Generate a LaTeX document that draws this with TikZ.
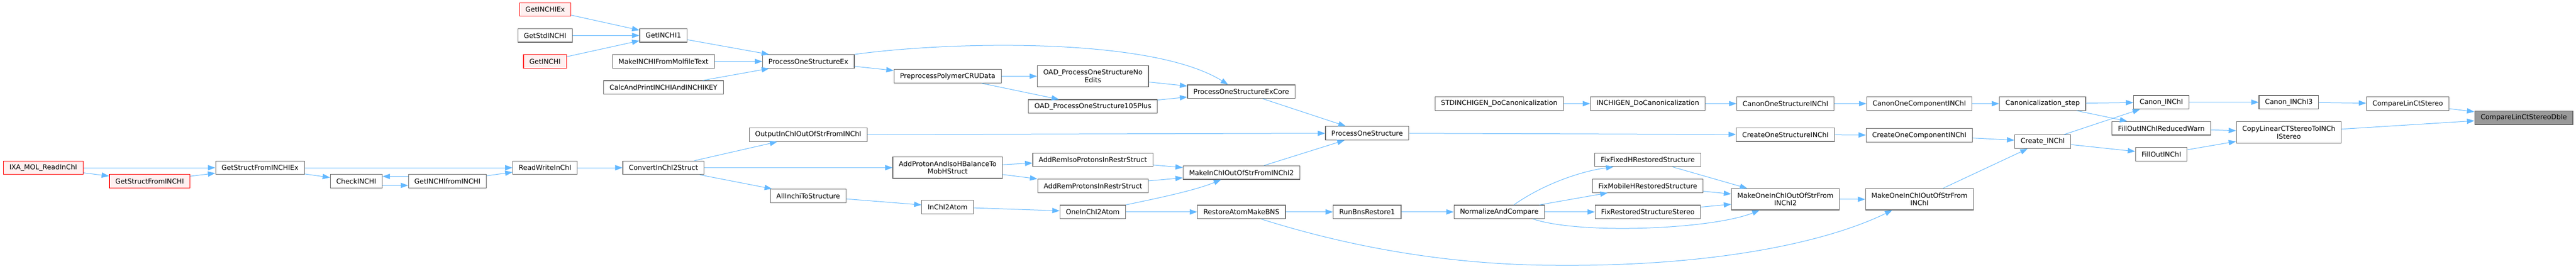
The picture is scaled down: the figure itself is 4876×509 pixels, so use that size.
\documentclass[tikz,border=0pt]{standalone}
\usepackage{fontspec}
\setmainfont{DejaVu Sans}
\usetikzlibrary{arrows.meta}
\usetikzlibrary{positioning}

\definecolor{edgeblue}{HTML}{63B8FF}
\definecolor{nodeborder}{HTML}{666666}
\definecolor{callerfill}{HTML}{FFF0F0}
\definecolor{focusfill}{HTML}{999999}

\begin{document}
\begin{tikzpicture}[
      x = 1pt, y = -1pt,
      >={Triangle[length=14pt, width=10pt]},
      fn/.style = {
        draw = nodeborder, fill = white, line width = 1.2pt,
        font = \fontsize{12.9pt}{14.5pt}\selectfont,
        inner xsep = 11.3pt, inner ysep = 0pt,
        minimum height = 25.6pt, align = center
      },
      caller/.style = { draw = red, fill = callerfill },
      focus/.style = { fill = focusfill },
      twoline/.style = { minimum height = 40.3pt },
      edge/.style = { edgeblue, line width = 1pt, -> },
    ]

    \useasboundingbox (0,0) rectangle (4876,509);

    %% readers
    \node[fn, caller] (ixa) at (81.9,318) {IXA\_MOL\_ReadInChI};
    \node[fn, caller] (gsfi) at (283.2,343.5) {GetStructFromINCHI};
    \node[fn] (gsfiex) at (492.2,318) {GetStructFromINCHIEx};
    \node[fn] (check) at (674.4,343.5) {CheckINCHI};
    \node[fn] (gifi) at (846.9,343.5) {GetINCHIfromINCHI};
    \node[fn] (rw) at (1031.7,318) {ReadWriteInChI};
    \node[fn] (conv) at (1255.8,318) {ConvertInChI2Struct};
    \node[fn] (output) at (1529.8,255.4) {OutputInChIOutOfStrFromINChI};
    \node[fn] (allinchi) at (1529.9,371.4) {AllInchiToStructure};

    %% API entries
    \node[fn, caller] (getex) at (1032,17.9) {GetINCHIEx};
    \node[fn] (getstd) at (1031.7,67.2) {GetStdINCHI};
    \node[fn, caller] (getinchi) at (1031.7,116.5) {GetINCHI};
    \node[fn] (getinchi1) at (1255.8,67.2) {GetINCHI1};
    \node[fn] (molfile) at (1255.8,116.5) {MakeINCHIFromMolfileText};
    \node[fn] (calc) at (1255.8,165.8) {CalcAndPrintINCHIAndINCHIKEY};
    \node[fn] (posex) at (1530.2,116.5) {ProcessOneStructureEx};
    \node[fn] (prep) at (1793.8,144.5) {PreprocessPolymerCRUData};
    \node[fn, twoline] (oadnoedits) at (2068.7,144.5) {OAD\_ProcessOneStructureNo\\Edits};
    \node[fn] (oad105) at (2068.7,201.8) {OAD\_ProcessOneStructure105Plus};
    \node[fn] (excore) at (2349.6,173.8) {ProcessOneStructureExCore};
    \node[fn] (pos) at (2587.8,252.5) {ProcessOneStructure};

    %% restore
    \node[fn, twoline] (addproton) at (1793.8,317.8) {AddProtonAndIsoHBalanceTo\\MobHStruct};
    \node[fn] (addremiso) at (2068.6,303) {AddRemIsoProtonsInRestrStruct};
    \node[fn] (addrem) at (2068.7,352.3) {AddRemProtonsInRestrStruct};
    \node[fn] (makeinchi2) at (2349.9,327.2) {MakeInChIOutOfStrFromINChI2};
    \node[fn] (inchi2atom) at (1793.8,392.4) {InChI2Atom};
    \node[fn] (oneinchi2atom) at (2068.4,401.8) {OneInChI2Atom};
    \node[fn] (restore) at (2349.9,401.8) {RestoreAtomMakeBNS};
    \node[fn] (runbns) at (2587.8,401.8) {RunBnsRestore1};
    \node[fn] (normalize) at (2837.8,401.8) {NormalizeAndCompare};
    \node[fn] (fixfixed) at (3119,303) {FixFixedHRestoredStructure};
    \node[fn] (fixmobile) at (3119,352.3) {FixMobileHRestoredStructure};
    \node[fn] (fixstereo) at (3119.1,401.8) {FixRestoredStructureStereo};
    \node[fn, twoline] (makeone2) at (3379.6,377.8) {MakeOneInChIOutOfStrFrom\\INChI2};
    \node[fn, twoline] (makeone) at (3633.3,377.8) {MakeOneInChIOutOfStrFrom\\INChI};

    %% canonicalization
    \node[fn] (stdgen) at (2837.8,196.5) {STDINCHIGEN\_DoCanonicalization};
    \node[fn] (gen) at (3119,196.5) {INCHIGEN\_DoCanonicalization};
    \node[fn] (canonstruct) at (3379.6,196.5) {CanonOneStructureINChI};
    \node[fn] (canoncomp) at (3633,196.5) {CanonOneComponentINChI};
    \node[fn] (canonstep) at (3866.3,196.5) {Canonicalization\_step};
    \node[fn] (createstruct) at (3379.6,255.2) {CreateOneStructureINChI};
    \node[fn] (createcomp) at (3633,256.5) {CreateOneComponentINChI};
    \node[fn] (create) at (3866.6,268.5) {Create\_INChI};
    \node[fn] (canon) at (4091,193.8) {Canon\_INChI};
    \node[fn] (filloutwarn) at (4091,243.2) {FillOutINChIReducedWarn};
    \node[fn] (fillout) at (4091,292.4) {FillOutINChI};
    \node[fn] (canon3) at (4332.4,193.8) {Canon\_INChI3};
    \node[fn, twoline] (copylinear) at (4332.4,251) {CopyLinearCTStereoToINCh\\IStereo};
    \node[fn] (compare) at (4557.5,196.5) {CompareLinCtStereo};
    \node[fn, focus] (dble) at (4777.1,223.2) {CompareLinCtStereoDble};

    %% straight calls
    \foreach \a/\b in {
        ixa/gsfiex, ixa/gsfi, gsfi/gsfiex, gsfiex/check, gsfiex/rw, gifi/rw,
        rw/conv, conv/output, conv/addproton, conv/allinchi,
        getex/getinchi1, getstd/getinchi1, getinchi/getinchi1,
        getinchi1/posex, molfile/posex, calc/posex, posex/prep,
        prep/oadnoedits, prep/oad105, oadnoedits/excore, oad105/excore,
        excore/pos, output/pos, makeinchi2/pos,
        addproton/addremiso, addproton/addrem, addremiso/makeinchi2, addrem/makeinchi2,
        allinchi/inchi2atom, inchi2atom/oneinchi2atom, oneinchi2atom/restore,
        restore/runbns, runbns/normalize, normalize/fixmobile, normalize/fixstereo,
        fixfixed/makeone2, fixmobile/makeone2, fixstereo/makeone2, makeone2/makeone,
        makeone/create, pos/createstruct, stdgen/gen, gen/canonstruct,
        canonstruct/canoncomp, canoncomp/canonstep, createstruct/createcomp, createcomp/create,
        canonstep/canon, canonstep/filloutwarn, create/canon, create/fillout,
        canon/canon3, canon3/compare, compare/dble,
        filloutwarn/copylinear, fillout/copylinear, copylinear/dble} {
      \draw[edge] (\a) to (\b);
    }

    %% CheckINCHI <-> GetINCHIfromINCHI
    \draw[edge] ([yshift=9pt]gifi.west) to ([yshift=9pt]check.east);
    \draw[edge] ([yshift=-8pt]check.east) to ([yshift=-8pt]gifi.west);

    %% curved calls
    \draw[edge] (posex.north east) .. controls (1800,78) and (2180,70) .. ([xshift=-25pt]excore.north);
    \draw[edge] (oneinchi2atom.north east) .. controls (2180,378) and (2260,362) .. ([xshift=-38.6pt]makeinchi2.south);
    \draw[edge] ([xshift=27.7pt]normalize.north) .. controls (2920,350) and (2990,325) .. ([xshift=-65pt]fixfixed.south);
    \draw[edge] ([xshift=64pt]normalize.south) .. controls (2990,445) and (3240,435) .. ([xshift=-49pt]makeone2.south);
    \draw[edge] ([xshift=37pt]restore.south) .. controls (2560,470) and (2750,503) .. (2950,503)
      .. controls (3250,505) and (3460,458) .. ([xshift=-51.5pt]makeone.south);
  \end{tikzpicture}
\end{document}
